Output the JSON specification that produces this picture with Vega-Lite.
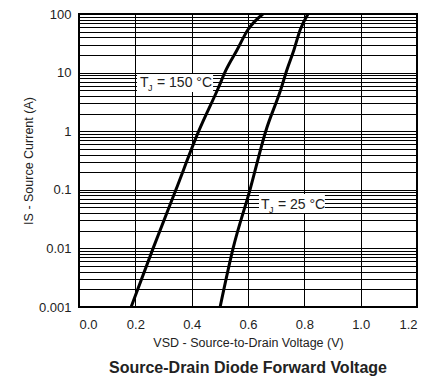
{
  "$schema": "https://vega.github.io/schema/vega-lite/v6.json",
  "width": 338,
  "height": 293,
  "autosize": {"type": "none"},
  "padding": {"left": 79, "top": 14, "right": 17, "bottom": 71},
  "config": {
    "font": "Liberation Sans",
    "view": {"stroke": "#000", "strokeWidth": 2},
    "axis": {
      "ticks": false,
      "tickSize": 0,
      "domain": false,
      "gridColor": "#000",
      "gridOpacity": 1,
      "gridWidth": 1,
      "labelFontSize": 13,
      "labelColor": "#222",
      "titleFontSize": 12.5,
      "titleFontWeight": "normal",
      "titleColor": "#222"
    }
  },
  "title": {
    "text": "Source-Drain Diode Forward Voltage",
    "orient": "bottom",
    "anchor": "middle",
    "fontSize": 16,
    "fontWeight": "bold",
    "color": "#222",
    "offset": 11
  },
  "datasets": {
    "curves": [
      {"series": "150", "V": 0.185, "I": 0.001},
      {"series": "150", "V": 0.263, "I": 0.01},
      {"series": "150", "V": 0.344, "I": 0.1},
      {"series": "150", "V": 0.425, "I": 1},
      {"series": "150", "V": 0.493, "I": 5.25},
      {"series": "150", "V": 0.522, "I": 11.1},
      {"series": "150", "V": 0.561, "I": 24.3},
      {"series": "150", "V": 0.599, "I": 53.3},
      {"series": "150", "V": 0.653, "I": 100},
      {"series": "25", "V": 0.501, "I": 0.001},
      {"series": "25", "V": 0.547, "I": 0.01},
      {"series": "25", "V": 0.607, "I": 0.1},
      {"series": "25", "V": 0.663, "I": 1},
      {"series": "25", "V": 0.717, "I": 5.25},
      {"series": "25", "V": 0.738, "I": 11.1},
      {"series": "25", "V": 0.763, "I": 24.3},
      {"series": "25", "V": 0.785, "I": 53.3},
      {"series": "25", "V": 0.813, "I": 100}
    ],
    "boxes": [
      {"V": 0.206, "V2": 0.476, "I": 4.67, "I2": 9.46},
      {"V": 0.639, "V2": 0.873, "I": 0.0402, "I2": 0.0847}
    ],
    "labels": [
      {"V": 0.2166, "I": 5.68, "t": "T", "sub": "J", "rest": "= 150 °C"},
      {"V": 0.646, "I": 0.047, "t": "T", "sub": "J", "rest": "= 25 °C"}
    ]
  },
  "encoding": {
    "x": {
      "field": "V",
      "type": "quantitative",
      "scale": {"domain": [0, 1.2], "nice": false, "zero": false},
      "axis": {
        "values": [0, 0.2, 0.4, 0.6, 0.8, 1.0, 1.2],
        "format": ".1f",
        "labelPadding": 11,
        "titlePadding": 5,
        "title": "VSD - Source-to-Drain Voltage (V)"
      }
    },
    "y": {
      "field": "I",
      "type": "quantitative",
      "scale": {"type": "log", "domain": [0.001, 100], "nice": false},
      "axis": {
        "values": [0.001, 0.002, 0.003, 0.004, 0.005, 0.006, 0.007, 0.008, 0.009,
                   0.01, 0.02, 0.03, 0.04, 0.05, 0.06, 0.07, 0.08, 0.09,
                   0.1, 0.2, 0.3, 0.4, 0.5, 0.6, 0.7, 0.8, 0.9,
                   1, 2, 3, 4, 5, 6, 7, 8, 9,
                   10, 20, 30, 40, 50, 60, 70, 80, 90, 100],
        "labelExpr": "abs(log(datum.value)/LN10 - round(log(datum.value)/LN10)) < 0.001 ? format(datum.value, '~g') : ''",
        "labelOverlap": false,
        "labelPadding": 8,
        "titlePadding": 3,
        "title": "IS - Source Current (A)"
      }
    }
  },
  "layer": [
    {
      "data": {"name": "boxes"},
      "mark": {"type": "rect", "fill": "#fff", "stroke": null},
      "encoding": {
        "x2": {"field": "V2"},
        "y2": {"field": "I2"}
      }
    },
    {
      "data": {"name": "curves"},
      "mark": {"type": "line", "color": "#000", "strokeWidth": 3, "interpolate": "monotone"},
      "encoding": {
        "detail": {"field": "series", "type": "nominal"}
      }
    },
    {
      "data": {"name": "labels"},
      "mark": {"type": "text", "align": "left", "baseline": "alphabetic", "fontSize": 14, "color": "#222"},
      "encoding": {"text": {"field": "t"}}
    },
    {
      "data": {"name": "labels"},
      "mark": {"type": "text", "align": "left", "baseline": "alphabetic", "fontSize": 9, "dx": 8, "dy": 4, "color": "#222"},
      "encoding": {"text": {"field": "sub"}}
    },
    {
      "data": {"name": "labels"},
      "mark": {"type": "text", "align": "left", "baseline": "alphabetic", "fontSize": 14, "dx": 17, "color": "#222"},
      "encoding": {"text": {"field": "rest"}}
    }
  ]
}
